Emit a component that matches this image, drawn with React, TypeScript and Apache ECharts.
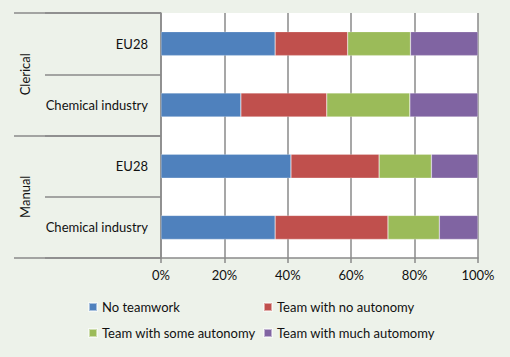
import React, { useEffect, useRef } from 'react';
import * as echarts from 'echarts';

const categories = ['Clerical|EU28', 'Clerical|Chemical industry', 'Manual|EU28', 'Manual|Chemical industry'];
const groups = ['Clerical', 'Manual'];
const seriesNames = ['No teamwork', 'Team with no autonomy', 'Team with some autonomy', 'Team with much automomy'];
const noTeamwork = [36.0, 25.2, 41.0, 36.0];
const noAutonomy = [22.9, 27.1, 27.8, 35.6];
const someAutonomy = [19.8, 26.2, 16.5, 16.2];
const muchAutonomy = [21.3, 21.5, 14.7, 12.2];
const seriesValues = [noTeamwork, noAutonomy, someAutonomy, muchAutonomy];
const colors = ['#4f81bd', '#c0504d', '#9bbb59', '#8064a2'];

const FONT = 'Lato';
const FS = 13;
const GRID_COLOR = '#8a8a8a';
const TEXT_COLOR = '#111111';

export default function App() {
  const ref = useRef<HTMLDivElement>(null);
  useEffect(() => {
    if (!ref.current) return;
    const chart = echarts.init(ref.current, undefined, { renderer: 'svg' });
    chart.setOption({
      animation: false,
      backgroundColor: '#edf2ea',
      textStyle: { fontFamily: FONT },
      grid: {
        left: 161, right: 32, top: 13, bottom: 99,
        show: true, backgroundColor: '#ffffff', borderWidth: 0,
      },
      legend: [
        {
          left: 88, top: 300, padding: 0, orient: 'vertical',
          data: [seriesNames[0], seriesNames[2]],
          icon: 'rect', itemWidth: 8, itemHeight: 8, itemGap: 12,
          textStyle: { fontFamily: FONT, fontSize: FS, color: TEXT_COLOR, lineHeight: 14 },
        },
        {
          left: 263, top: 300, padding: 0, orient: 'vertical',
          data: [seriesNames[1], seriesNames[3]],
          icon: 'rect', itemWidth: 8, itemHeight: 8, itemGap: 12,
          textStyle: { fontFamily: FONT, fontSize: FS, color: TEXT_COLOR, lineHeight: 14 },
        },
      ],
      xAxis: {
        type: 'value', min: 0, max: 100, interval: 20,
        axisLine: { show: true, lineStyle: { color: GRID_COLOR, width: 1.5 } },
        axisTick: { show: true, length: 5, lineStyle: { color: GRID_COLOR, width: 1.5 } },
        splitLine: { show: true, lineStyle: { color: GRID_COLOR, width: 1.5 } },
        axisLabel: { formatter: '{value}%', color: TEXT_COLOR, fontSize: FS, fontFamily: FONT, margin: 10 },
      },
      yAxis: [
        {
          type: 'category', inverse: true, data: categories,
          axisLine: { show: true, lineStyle: { color: GRID_COLOR, width: 1.5 } },
          axisTick: { show: true, length: 116, interval: 0, lineStyle: { color: GRID_COLOR, width: 1.5 } },
          axisLabel: {
            interval: 0, margin: 13, color: TEXT_COLOR, fontSize: FS, fontFamily: FONT,
            formatter: (v: string) => v.split('|')[1],
          },
        },
        {
          type: 'category', inverse: true, data: groups, position: 'left',
          axisLine: { show: false },
          axisTick: { show: true, length: 147, interval: 0, lineStyle: { color: GRID_COLOR, width: 1.5 } },
          axisLabel: { interval: 0, rotate: 90, margin: 130, color: TEXT_COLOR, fontSize: FS, fontFamily: FONT },
        },
      ],
      series: seriesNames.map((name, i) => ({
        name, type: 'bar', stack: 'total', yAxisIndex: 0,
        data: seriesValues[i], barWidth: 24,
        itemStyle: { color: colors[i], borderColor: 'rgba(255,255,255,0.5)', borderWidth: 0.5 },
      })),
    });
    return () => chart.dispose();
  }, []);
  return <div ref={ref} style={{ width: 510, height: 357, position: 'absolute', left: 0, top: 0 }} />;
}
